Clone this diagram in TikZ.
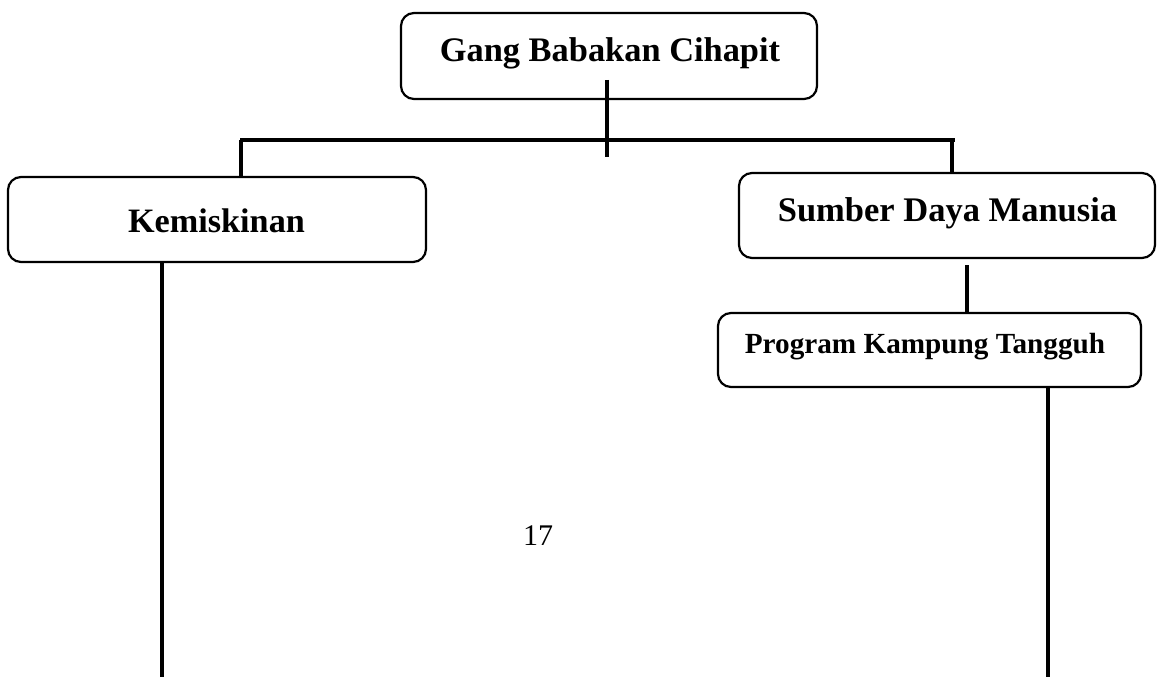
\documentclass[tikz,border=0pt]{standalone}
\usepackage{fontspec}
\setmainfont{Liberation Serif}
\begin{document}
\begin{tikzpicture}[x=1pt,y=-1pt,
  box/.style={draw=black,line width=2.2pt,rounded corners=13pt,inner sep=0pt,fill=none},
  lbl/.style={anchor=base,inner sep=0pt,font=\bfseries},
  conn/.style={line width=3.8pt,line cap=butt}]
\useasboundingbox (0,0) rectangle (1157,677);
% boxes
\node[box,minimum width=416pt,minimum height=86pt] (top) at (609,56) {};
\node[box,minimum width=418pt,minimum height=85pt] (kem) at (217,219.5) {};
\node[box,minimum width=416pt,minimum height=85pt] (sdm) at (947,215.5) {};
\node[box,minimum width=423pt,minimum height=74pt] (pkt) at (929.5,350) {};
% labels
\node[lbl,font=\bfseries\fontsize{34.4}{40}\selectfont] (ttop) at (610,62) {Gang Babakan Cihapit};
\node[lbl,font=\bfseries\fontsize{34.2}{40}\selectfont] (tkem) at (216.5,232) {Kemiskinan};
\node[lbl,font=\bfseries\fontsize{34.5}{40}\selectfont] (tsdm) at (947.5,221) {Sumber Daya Manusia};
\node[lbl,font=\bfseries\fontsize{29.2}{34}\selectfont] (tpkt) at (925,353) {Program Kampung Tangguh};
\node[anchor=base,inner sep=0pt,font=\fontsize{30}{36}\selectfont] (page) at (538,545) {17};
% connector points
\coordinate (topA) at (607,80);
\coordinate (topB) at (607,157);
\coordinate (barL) at (240,140);
\coordinate (barR) at (955,140);
\coordinate (stubL) at (241,140);
\coordinate (stubR) at (952,140);
\coordinate (kemEnd) at (162,677);
\coordinate (pktEnd) at (1048,677);
% connectors
\draw[conn] (topA) -- (topB);
\draw[conn] (barL) -- (barR);
\draw[conn] (stubL) -- (stubL |- kem.north);
\draw[conn] (stubR) -- (stubR |- sdm.north);
\draw[conn] (kemEnd |- kem.south) -- (kemEnd);
\draw[conn] (967,265) -- (967,0 |- pkt.north);
\draw[conn] (pktEnd |- pkt.south) -- (pktEnd);
\end{tikzpicture}
\end{document}
